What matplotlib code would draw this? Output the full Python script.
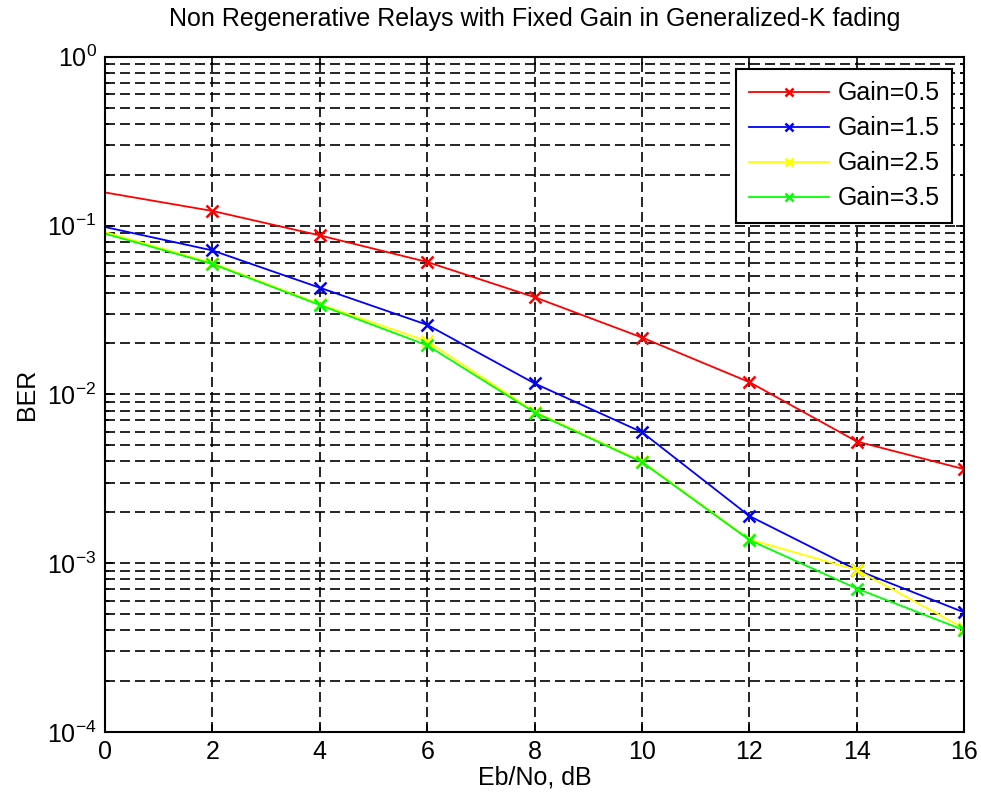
import matplotlib
matplotlib.use('Agg')
import matplotlib.pyplot as plt
from matplotlib.ticker import LogLocator, NullFormatter, MultipleLocator

# Eb/No (dB) and BER values
ebno = [0, 2, 4, 6, 8, 10, 12, 14, 16]
ber_g05 = [0.157, 0.122, 0.0874, 0.0608, 0.0376, 0.0217, 0.0118, 0.00525, 0.0036]
ber_g15 = [0.098, 0.0712, 0.0428, 0.0258, 0.0116, 0.00596, 0.0019, 0.00091, 0.00051]
ber_g25 = [0.0915, 0.0600, 0.0342, 0.0206, 0.0079, 0.0040, 0.00138, 0.00091, 0.00041]
ber_g35 = [0.0895, 0.0592, 0.0338, 0.0195, 0.0078, 0.00396, 0.00137, 0.000706, 0.00040]
labels = ['Gain=0.5', 'Gain=1.5', 'Gain=2.5', 'Gain=3.5']
colors = ['#ff0000', '#0000ff', '#ffff00', '#00ff00']

plt.rcParams['font.family'] = ['Liberation Sans', 'DejaVu Sans']
plt.rcParams['font.size'] = 18

fig = plt.figure(figsize=(9.81, 7.99), dpi=100)
ax = fig.add_axes([0.107, 0.084, 0.876, 0.845])

for ber, lab, c in zip([ber_g05, ber_g15, ber_g25, ber_g35], labels, colors):
    ax.semilogy(ebno, ber, color=c, marker='x', markersize=8, markeredgewidth=1.8,
                linewidth=1.3, label=lab, markevery=range(1, len(ebno)))

ax.set_xlim(0, 16)
ax.set_ylim(1e-4, 1)
ax.xaxis.set_major_locator(MultipleLocator(2))
ax.yaxis.set_major_locator(LogLocator(base=10, numticks=10))
ax.yaxis.set_minor_locator(LogLocator(base=10, subs=range(2, 10), numticks=10))
ax.yaxis.set_minor_formatter(NullFormatter())

# MATLAB style dashed grid
dash = (0, (6, 3))
ax.grid(True, which='major', axis='both', color='black', linestyle=dash, linewidth=1.2)
ax.grid(True, which='minor', axis='y', color='black', linestyle=dash, linewidth=1.2)
ax.tick_params(which='both', direction='in', top=True, right=True, width=1.2)
ax.tick_params(which='major', length=6, labelsize=18, pad=6)
ax.tick_params(which='minor', length=3)
for sp in ax.spines.values():
    sp.set_linewidth(1.5)

ax.set_xlabel('Eb/No, dB', fontsize=18, labelpad=1)
ax.set_ylabel('BER', fontsize=18, labelpad=6)
ax.set_title('Non Regenerative Relays with Fixed Gain in Generalized-K fading',
             fontsize=18, pad=22)

leg = ax.legend(loc='upper right', bbox_to_anchor=(0.986, 0.982), borderaxespad=0,
                fontsize=18, fancybox=False, framealpha=1, edgecolor='black',
                handlelength=3.2, handletextpad=0.35, labelspacing=0.44, borderpad=0.5,
                markerscale=0.8)
leg.get_frame().set_linewidth(1.5)

fig.savefig('out.png', dpi=100)
